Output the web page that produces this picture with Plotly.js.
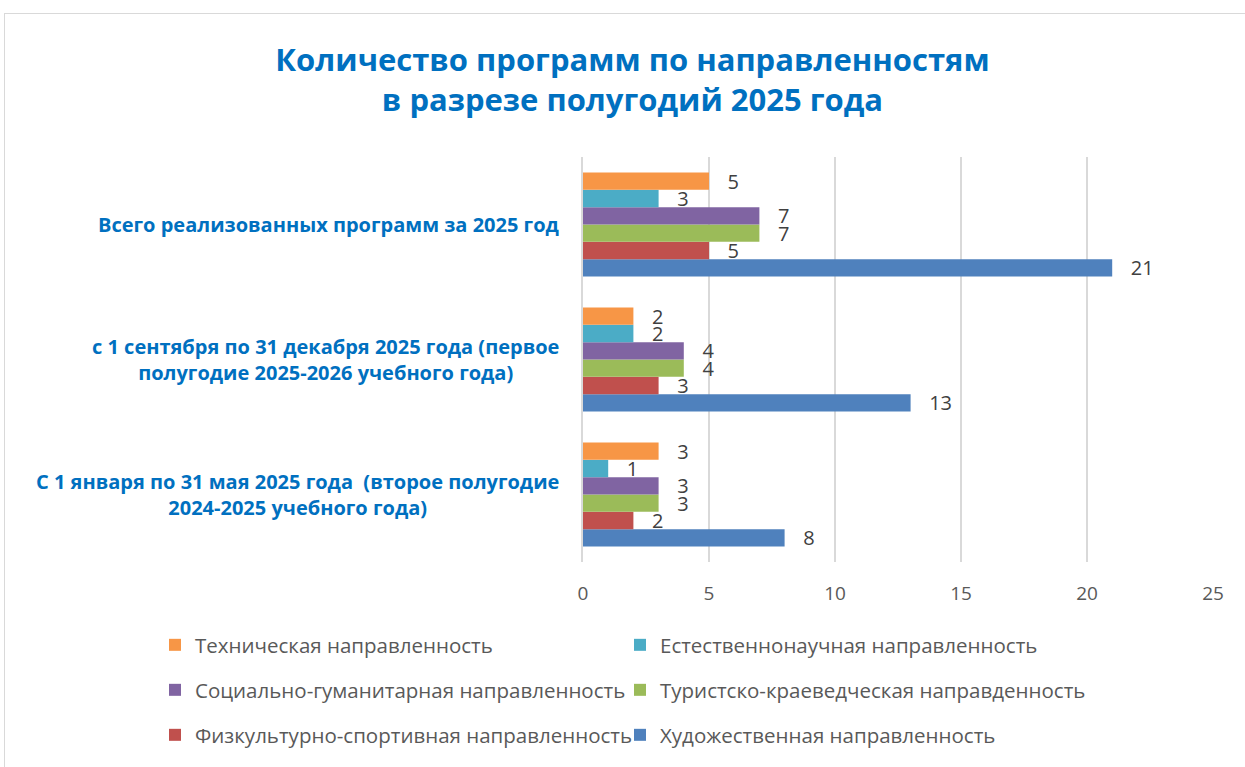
<!DOCTYPE html>
<html>
<head>
<meta charset="utf-8">
<script src="https://cdn.plot.ly/plotly-3.0.1.min.js"></script>
<style>
  html, body { margin: 0; padding: 0; background: #fff; overflow: hidden; }
  #chart { width: 1245px; height: 767px; }
  #frame { position: absolute; left: 4px; top: 13px; width: 1400px; height: 900px;
           border: 1px solid #D9D9D9; pointer-events: none; }
</style>
</head>
<body>
<div id="chart"></div>
<div id="frame"></div>
<script>
// Categories (bottom to top on the chart)
const categories = [
  'С 1 января по 31 мая 2025 года  (второе полугодие<br>2024-2025 учебного года)',
  'с 1 сентября по 31 декабря 2025 года (первое<br>полугодие 2025-2026 учебного года)',
  'Всего реализованных программ за 2025 год'
];

// Series names
const seriesNames = [
  'Художественная направленность',
  'Физкультурно-спортивная направленность',
  'Туристско-краеведческая направденность',
  'Социально-гуманитарная направленность',
  'Естественнонаучная направленность',
  'Техническая направленность'
];

// Series values (same order as categories)
const artValues      = [8, 13, 21];
const sportValues    = [2, 3, 5];
const tourismValues  = [3, 4, 7];
const socialValues   = [3, 4, 7];
const scienceValues  = [1, 2, 3];
const techValues     = [3, 2, 5];

const seriesValues = [artValues, sportValues, tourismValues, socialValues, scienceValues, techValues];
const seriesColors = ['#4F81BD', '#C0504D', '#9BBB59', '#8064A2', '#4BACC6', '#F79646'];
const legendIds = ['legend6', 'legend5', 'legend4', 'legend3', 'legend2', 'legend'];

const titleText = 'Количество программ по направленностям<br>в разрезе полугодий 2025 года';
const xTicks = [0, 5, 10, 15, 20, 25];

const data = seriesNames.map((name, i) => ({
  type: 'bar',
  orientation: 'h',
  name: name,
  y: categories,
  x: seriesValues[i],
  marker: { color: seriesColors[i] },
  text: seriesValues[i].map(v => '\u00a0\u00a0\u00a0' + v),
  textposition: 'outside',
  textfont: { family: 'Open Sans, sans-serif', size: 20, color: '#404040' },
  constraintext: 'none',
  cliponaxis: false,
  legend: legendIds[i],
  hoverinfo: 'x+name'
}));

const annotations = categories.map(c => ({
  xref: 'paper', yref: 'y', x: 0, y: c, xanchor: 'right', yanchor: 'middle',
  xshift: -22, text: '<b>' + c + '</b>', showarrow: false, align: 'center',
  font: { family: 'Open Sans, sans-serif', size: 20, color: '#0070C0' }
}));

const legendBase = {
  orientation: 'h', xref: 'container', yref: 'container', xanchor: 'left', yanchor: 'middle',
  font: { family: 'Open Sans, sans-serif', size: 20.5, color: '#595959' },
  bgcolor: 'rgba(0,0,0,0)'
};
// legend grid: columns x (px), rows y (px)
const legCol = [155, 620];
const legRow = [645, 690, 735];
function leg(col, row) {
  return Object.assign({}, legendBase, { x: legCol[col] / 1245, y: 1 - legRow[row] / 767 });
}

const layout = {
  width: 1245, height: 767,
  margin: { l: 583, r: 32, t: 157, b: 205 },
  paper_bgcolor: '#ffffff', plot_bgcolor: '#ffffff',
  barmode: 'group', bargap: 0.23, bargroupgap: 0,
  title: {
    text: '<b>' + titleText + '</b>',
    font: { family: 'Open Sans, sans-serif', size: 31, color: '#0070C0' },
    xref: 'container', x: 0.508, xanchor: 'center',
    yref: 'container', y: 1 - 71 / 767, yanchor: 'middle'
  },
  xaxis: {
    range: [0, 25], tickvals: xTicks, ticktext: xTicks.map(String),
    showgrid: true, gridcolor: '#D9D9D9', gridwidth: 2, zeroline: false,
    showline: false, ticks: '', ticklabelstandoff: 18,
    tickfont: { family: 'Open Sans, sans-serif', size: 19, color: '#595959' },
    fixedrange: true
  },
  yaxis: {
    showticklabels: false, showgrid: false, zeroline: false,
    showline: true, linecolor: '#D9D9D9', linewidth: 2, ticks: '',
    fixedrange: true
  },
  annotations: annotations,
  showlegend: true,
  legend:  leg(0, 0),
  legend2: leg(1, 0),
  legend3: leg(0, 1),
  legend4: leg(1, 1),
  legend5: leg(0, 2),
  legend6: leg(1, 2)
};

Plotly.newPlot('chart', data, layout, { displayModeBar: false });
</script>
</body>
</html>
